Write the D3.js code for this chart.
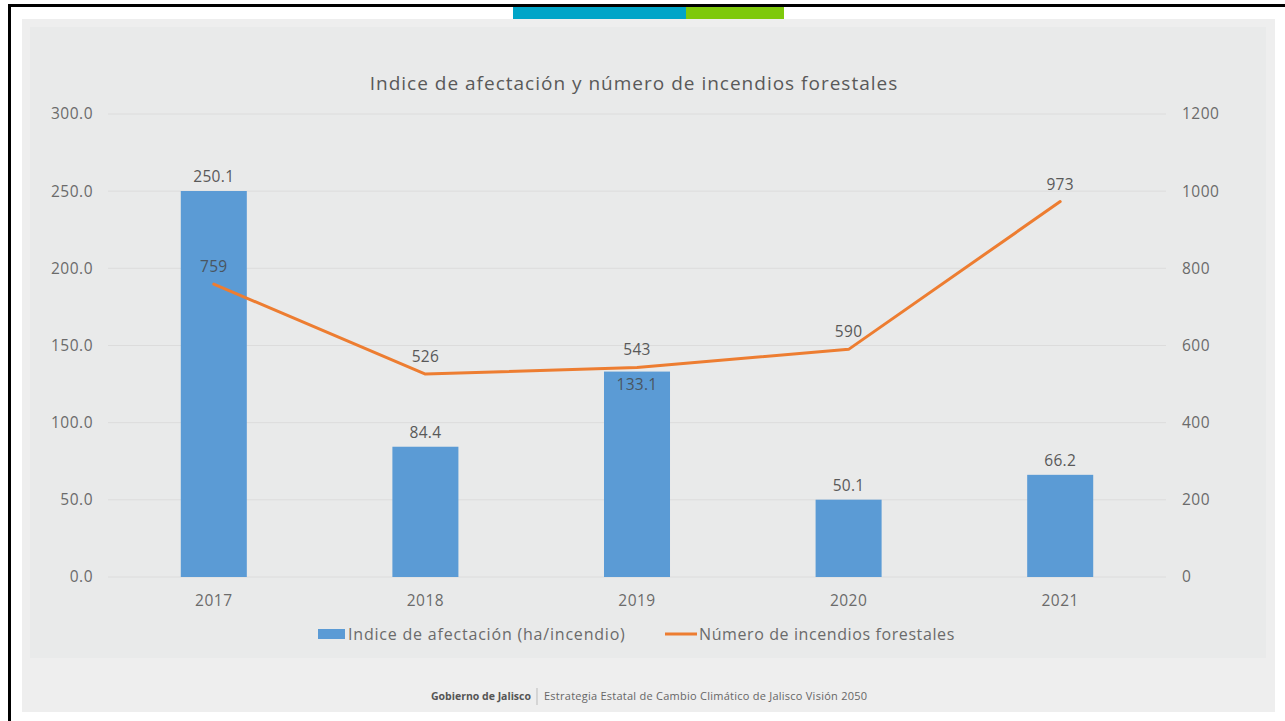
<!DOCTYPE html>
<html>
<head>
<meta charset="utf-8">
<script src="https://cdn.jsdelivr.net/npm/d3@7"></script>
<style>
  body { margin: 0; background: #fff; }
  svg { display: block; font-family: "Open Sans", "Noto Sans", sans-serif; }
</style>
</head>
<body>
<svg id="mount" width="1285" height="721"></svg>
<script>
var colorBar = "#5b9bd5";
var colorLine = "#ed7d31";
var colorText = "#6b6b6b";

// Data
var years = ["2017", "2018", "2019", "2020", "2021"];
var indice = [250.1, 84.4, 133.1, 50.1, 66.2];
var incendios = [759, 526, 543, 590, 973];
var leftTicks = [0, 50, 100, 150, 200, 250, 300];
var rightTicks = [0, 200, 400, 600, 800, 1000, 1200];

var svg = d3.select("#mount");

// Page frame
svg.append("rect").attr("x", 8).attr("y", 4).attr("width", 1277).attr("height", 3).attr("fill", "#000");
svg.append("rect").attr("x", 8).attr("y", 4).attr("width", 3).attr("height", 717).attr("fill", "#000");
svg.append("rect").attr("x", 513).attr("y", 7).attr("width", 173).attr("height", 12).attr("fill", "#00a5c8");
svg.append("rect").attr("x", 686).attr("y", 7).attr("width", 98).attr("height", 12).attr("fill", "#7ec90b");
svg.append("rect").attr("x", 22).attr("y", 19).attr("width", 1253).attr("height", 693).attr("fill", "#eeeeee");
svg.append("rect").attr("x", 30).attr("y", 27).attr("width", 1236).attr("height", 631).attr("fill", "#e9eaea");

// Title
svg.append("text")
  .attr("x", 634).attr("y", 90)
  .attr("text-anchor", "middle")
  .attr("fill", "#595959")
  .style("font-size", "19px")
  .style("letter-spacing", "1px")
  .text("Indice de afectación y número de incendios forestales");

var margin = { top: 114, left: 108 };
var width = 1058;
var height = 463;
var g = svg.append("g").attr("transform", "translate(" + margin.left + "," + margin.top + ")");

var x = d3.scaleBand().domain(years).range([0, width]).paddingInner(0.688).paddingOuter(0.344);
var yL = d3.scaleLinear().domain([0, 300]).range([height, 0]);
var yR = d3.scaleLinear().domain([0, 1200]).range([height, 0]);

// gridlines
g.append("g")
  .selectAll("line")
  .data(leftTicks)
  .join("line")
  .attr("x1", 0).attr("x2", width)
  .attr("y1", function(d) { return yL(d); })
  .attr("y2", function(d) { return yL(d); })
  .attr("stroke", "#dcdcdc")
  .attr("stroke-width", 1);

// left axis
var axL = g.append("g")
  .call(d3.axisLeft(yL).tickValues(leftTicks).tickSize(0).tickPadding(15).tickFormat(d3.format(".1f")));
axL.select(".domain").remove();

// right axis
var axR = g.append("g")
  .attr("transform", "translate(" + width + ",0)")
  .call(d3.axisRight(yR).tickValues(rightTicks).tickSize(0).tickPadding(16).tickFormat(d3.format("d")));
axR.select(".domain").remove();

// x axis
var axX = g.append("g")
  .attr("transform", "translate(0," + height + ")")
  .call(d3.axisBottom(x).tickSize(0).tickPadding(18));
axX.select(".domain").remove();

svg.selectAll(".tick text")
  .attr("fill", colorText)
  .style("font-size", "15.5px")
  .style("letter-spacing", "0.5px")
  .style("font-family", "'Open Sans', sans-serif");

// bars
var data = years.map(function(y, i) {
  return { year: y, indice: indice[i], incendios: incendios[i] };
});

g.append("g")
  .selectAll("rect")
  .data(data)
  .join("rect")
  .attr("x", function(d) { return x(d.year); })
  .attr("y", function(d) { return yL(d.indice); })
  .attr("width", x.bandwidth())
  .attr("height", function(d) { return height - yL(d.indice); })
  .attr("fill", colorBar);

// bar labels (2019 label sits inside the bar)
g.append("g")
  .selectAll("text")
  .data(data)
  .join("text")
  .attr("x", function(d) { return x(d.year) + x.bandwidth() / 2; })
  .attr("y", function(d) {
    return d.year === "2019" ? yL(d.indice) + 18 : yL(d.indice) - 9;
  })
  .attr("text-anchor", "middle")
  .attr("fill", function(d) { return d.year === "2019" ? "#4a5560" : "#595959"; })
  .style("font-size", "15.5px")
  .style("letter-spacing", "0.3px")
  .text(function(d) { return d.indice.toFixed(1); });

// line
var line = d3.line()
  .x(function(d) { return x(d.year) + x.bandwidth() / 2; })
  .y(function(d) { return yR(d.incendios); });

g.append("path")
  .datum(data)
  .attr("fill", "none")
  .attr("stroke", colorLine)
  .attr("stroke-width", 3)
  .attr("stroke-linejoin", "round")
  .attr("stroke-linecap", "round")
  .attr("d", line);

g.append("g")
  .selectAll("text")
  .data(data)
  .join("text")
  .attr("x", function(d) { return x(d.year) + x.bandwidth() / 2; })
  .attr("y", function(d) { return yR(d.incendios) - 12; })
  .attr("text-anchor", "middle")
  .attr("fill", function(d) { return d.year === "2017" ? "#4a5560" : "#595959"; })
  .style("font-size", "15.5px")
  .style("letter-spacing", "0.3px")
  .text(function(d) { return d.incendios; });

// legend
var legend = svg.append("g");
legend.append("rect").attr("x", 318).attr("y", 629).attr("width", 27).attr("height", 10).attr("fill", colorBar);
legend.append("text").attr("x", 348).attr("y", 640).attr("fill", colorText)
  .style("font-size", "16px").style("letter-spacing", "0.8px")
  .text("Indice de afectación (ha/incendio)");
legend.append("line").attr("x1", 665).attr("x2", 697).attr("y1", 634).attr("y2", 634)
  .attr("stroke", colorLine).attr("stroke-width", 3);
legend.append("text").attr("x", 699).attr("y", 640).attr("fill", colorText)
  .style("font-size", "16px").style("letter-spacing", "0.6px")
  .text("Número de incendios forestales");

// footer
svg.append("text").attr("x", 531).attr("y", 700).attr("text-anchor", "end")
  .attr("fill", "#555").style("font-size", "10.5px").style("font-weight", "bold")
  .text("Gobierno de Jalisco");
svg.append("line").attr("x1", 537).attr("x2", 537).attr("y1", 688).attr("y2", 705)
  .attr("stroke", "#bbb").attr("stroke-width", 1);
svg.append("text").attr("x", 544).attr("y", 700)
  .attr("fill", "#666").style("font-size", "11px").style("letter-spacing", "0.25px")
  .text("Estrategia Estatal de Cambio Climático de Jalisco Visión 2050");
</script>
</body>
</html>
